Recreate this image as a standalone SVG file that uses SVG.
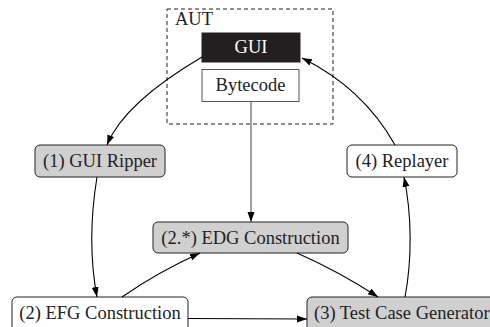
<svg xmlns="http://www.w3.org/2000/svg" width="490" height="327" viewBox="0 0 490 327">
<defs>
<marker id="ah" markerUnits="userSpaceOnUse" markerWidth="11" markerHeight="8" refX="10" refY="3.5" orient="auto">
<path d="M0,0 L10,3.5 L0,7 z" fill="#000"/>
</marker>
<style>
text{font-family:"Liberation Serif","Times New Roman",serif;font-size:18.5px;fill:#222;text-anchor:middle}
.g{fill:#d0d0d0;stroke:#222;stroke-width:1}
.w{fill:#fff;stroke:#222;stroke-width:1}
.c{fill:none;stroke:#000;stroke-width:1.1;marker-end:url(#ah)}
</style>
</defs>
<rect width="490" height="327" fill="#fff"/>
<g id="aut">
<rect x="167" y="9" width="166" height="115" fill="none" stroke="#222" stroke-width="1" stroke-dasharray="4,3"/>
<text x="175" y="25" style="text-anchor:start">AUT</text>
</g>
<g id="gui">
<rect x="202" y="33" width="98" height="29" fill="#231f20" stroke="#222"/>
<text x="251" y="53" style="fill:#fff">GUI</text>
</g>
<g id="bytecode">
<rect x="202" y="69.5" width="97" height="32" fill="#fff" stroke="#555"/>
<text x="250.5" y="91">Bytecode</text>
</g>
<g id="ripper">
<rect class="g" x="35" y="145" width="130" height="32" rx="5"/>
<text x="100" y="167">(1) GUI Ripper</text>
</g>
<g id="replayer">
<rect class="w" x="347" y="145" width="110" height="32" rx="5"/>
<text x="402" y="167">(4) Replayer</text>
</g>
<g id="edg">
<rect class="g" x="153" y="222" width="195" height="31" rx="5"/>
<text x="250.5" y="244">(2.*) EDG Construction</text>
</g>
<g id="efg">
<rect class="w" x="12" y="297" width="176" height="36" rx="5"/>
<text x="100" y="319">(2) EFG Construction</text>
</g>
<g id="tcg">
<rect class="g" x="307" y="297" width="192" height="36" rx="5"/>
<text x="314" y="319" style="text-anchor:start">(3) Test Case Generator</text>
</g>
<g id="connectors">
<path class="c" d="M202,57 Q124,103 107,145"/>
<path class="c" d="M97,177 C90,220 90,260 97,297"/>
<path class="c" d="M122,297 Q158,272 200,253"/>
<path class="c" d="M251,102 L251,222" style="stroke:#555"/>
<path class="c" d="M297,253 Q340,272 378,297"/>
<path class="c" d="M188,318.5 L307,319"/>
<path class="c" d="M405,297 C412,260 412,215 404,177"/>
<path class="c" d="M395,145 Q363,88 302,58"/>
</g>
</svg>
